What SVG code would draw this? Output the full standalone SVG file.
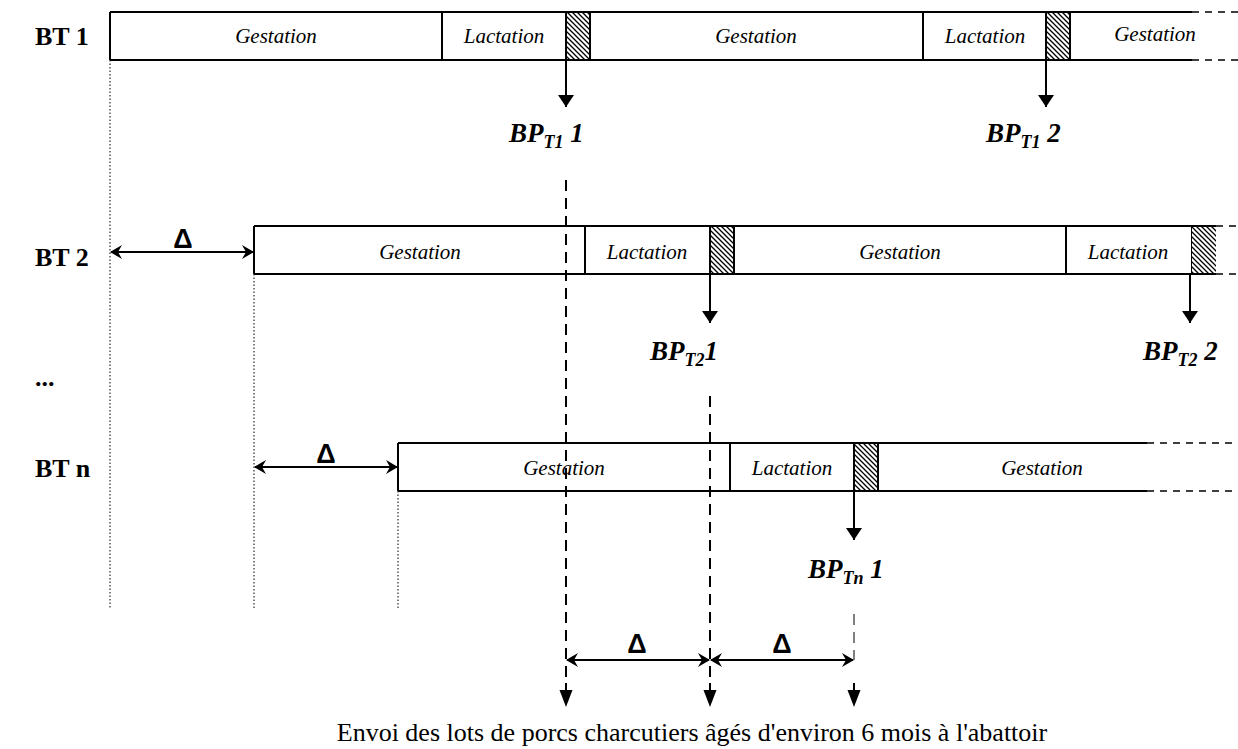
<svg xmlns="http://www.w3.org/2000/svg" width="1238" height="749" viewBox="0 0 1238 749">
<style>
.div{stroke:#000;stroke-width:2;fill:none}
.ext{stroke:#000;stroke-width:1.5;stroke-dasharray:7,6}
.phase{font-family:"Liberation Serif",serif;font-style:italic;font-size:21px;text-anchor:middle}
.bt{font-family:"Liberation Serif",serif;font-weight:bold;font-size:26px}
.bp{font-family:"Liberation Serif",serif;font-weight:bold;font-style:italic;font-size:27px}
.sub{font-size:18px}
.delta{font-family:"Liberation Sans",sans-serif;font-weight:bold;font-size:27px;text-anchor:middle}
.dot{stroke:#000;stroke-width:1;stroke-dasharray:1.5,2}
.dash{stroke:#000;stroke-width:2;stroke-dasharray:11,7;fill:none}
.thin{stroke:#000;stroke-width:1;stroke-dasharray:11,7;fill:none}
.arr{stroke:#000;stroke-width:2;fill:none}
.hatch{fill:url(#h);stroke:#000;stroke-width:2}
.cap{font-family:"Liberation Serif",serif;font-size:26px;text-anchor:middle}
</style>
<defs>
<pattern id="h" patternUnits="userSpaceOnUse" width="5" height="5">
<rect width="5" height="5" fill="#fff"/>
<path d="M0,0 L5,5 M-1,4 L1,6 M4,-1 L6,1" stroke="#000" stroke-width="1.3"/>
</pattern>
<marker id="ah" viewBox="0 0 12 16" refX="12" refY="8" markerWidth="12" markerHeight="16" markerUnits="userSpaceOnUse" orient="auto">
<path d="M0,0 L12,8 L0,16 Z" fill="#000"/>
</marker>
<marker id="dh" viewBox="0 0 12 14" refX="11" refY="7" markerWidth="12" markerHeight="14" markerUnits="userSpaceOnUse" orient="auto-start-reverse">
<path d="M0,0 L12,7 L0,14 L4,7 Z" fill="#000"/>
</marker>
</defs>

<g id="guides">
<line class="dot" x1="110" y1="60" x2="110" y2="608"/>
<line class="dot" x1="254" y1="274" x2="254" y2="608"/>
<line class="dot" x1="398" y1="491" x2="398" y2="608"/>
</g>

<g id="bt1">
<text class="bt" x="35" y="45">BT 1</text>
<path class="div" d="M110,12 H1192 M110,60 H1192 M110,12 V60 M442,12 V60 M923,12 V60"/>
<rect class="hatch" x="566" y="12" width="24" height="48"/>
<rect class="hatch" x="1046" y="12" width="24" height="48"/>
<line class="ext" x1="1192" y1="12" x2="1238" y2="12"/>
<line class="ext" x1="1192" y1="60" x2="1238" y2="60"/>
<text class="phase" x="276" y="43">Gestation</text>
<text class="phase" x="504" y="43">Lactation</text>
<text class="phase" x="756" y="43">Gestation</text>
<text class="phase" x="985" y="43">Lactation</text>
<text class="phase" x="1155" y="41">Gestation</text>
</g>

<g id="bt2">
<text class="bt" x="35" y="266">BT 2</text>
<path class="div" d="M254,226 H1192 M254,274 H1192 M254,226 V274 M585,226 V274 M1066,226 V274 M1192,226 V274"/>
<rect class="hatch" x="710" y="226" width="24" height="48"/>
<path d="M1192,226 H1216 V274 H1192 Z" fill="url(#h)" stroke="none"/>
<path d="M1192,226 H1216 M1192,274 H1216" stroke="#000" stroke-width="2"/>
<line class="ext" x1="1216" y1="226" x2="1238" y2="226"/>
<line class="ext" x1="1216" y1="274" x2="1238" y2="274"/>
<text class="phase" x="420" y="259">Gestation</text>
<text class="phase" x="647" y="259">Lactation</text>
<text class="phase" x="900" y="259">Gestation</text>
<text class="phase" x="1128" y="259">Lactation</text>
</g>

<g id="dots">
<text class="bt" x="35" y="386">...</text>
</g>

<g id="btn">
<text class="bt" x="35" y="477">BT n</text>
<path class="div" d="M398,443 H1147 M398,491 H1147 M398,443 V491 M730,443 V491"/>
<rect class="hatch" x="854" y="443" width="24" height="48"/>
<line class="ext" x1="1147" y1="443" x2="1238" y2="443"/>
<line class="ext" x1="1147" y1="491" x2="1238" y2="491"/>
<text class="phase" x="564" y="475">Gestation</text>
<text class="phase" x="792" y="475">Lactation</text>
<text class="phase" x="1042" y="475">Gestation</text>
</g>

<g id="bp-labels">
<text class="bp" x="509" y="142">BP<tspan class="sub" dy="6">T1</tspan><tspan dy="-6"> 1</tspan></text>
<text class="bp" x="986" y="142">BP<tspan class="sub" dy="6">T1</tspan><tspan dy="-6"> 2</tspan></text>
<text class="bp" x="650" y="360">BP<tspan class="sub" dy="6">T2</tspan><tspan dy="-6">1</tspan></text>
<text class="bp" x="1143" y="360">BP<tspan class="sub" dy="6">T2</tspan><tspan dy="-6"> 2</tspan></text>
<text class="bp" x="808" y="578">BP<tspan class="sub" dy="6">Tn</tspan><tspan dy="-6"> 1</tspan></text>
</g>

<g id="connectors">
<line class="arr" x1="566" y1="60" x2="566" y2="107" marker-end="url(#ah)"/>
<line class="arr" x1="1046" y1="60" x2="1046" y2="107" marker-end="url(#ah)"/>
<line class="arr" x1="710" y1="274" x2="710" y2="323" marker-end="url(#ah)"/>
<line class="arr" x1="1190" y1="274" x2="1190" y2="323" marker-end="url(#ah)"/>
<line class="arr" x1="854" y1="491" x2="854" y2="540" marker-end="url(#ah)"/>

<line class="arr" x1="111" y1="252" x2="253" y2="252" marker-start="url(#dh)" marker-end="url(#dh)"/>
<line class="arr" x1="255" y1="467" x2="397" y2="467" marker-start="url(#dh)" marker-end="url(#dh)"/>
<text class="delta" x="183" y="248">Δ</text>
<text class="delta" x="326" y="463">Δ</text>

<line class="dash" x1="566" y1="180" x2="566" y2="678"/>
<line class="dash" x1="710" y1="396" x2="710" y2="678"/>
<line class="thin" x1="854" y1="614" x2="854" y2="660"/>
<path d="M566,683 V692 M710,683 V692 M854,683 V692" stroke="#000" stroke-width="2"/>
<path d="M559.5,690 L572.5,690 L566,707 Z"/>
<path d="M703.5,690 L716.5,690 L710,707 Z"/>
<path d="M847.5,690 L860.5,690 L854,707 Z"/>

<line class="arr" x1="567" y1="660" x2="709" y2="660" marker-start="url(#dh)" marker-end="url(#dh)"/>
<line class="arr" x1="711" y1="660" x2="853" y2="660" marker-start="url(#dh)" marker-end="url(#dh)"/>
<text class="delta" x="637" y="653">Δ</text>
<text class="delta" x="782" y="653">Δ</text>
</g>

<g id="caption">
<text class="cap" x="692" y="741">Envoi des lots de porcs charcutiers âgés d'environ 6 mois à l'abattoir</text>
</g>
</svg>
